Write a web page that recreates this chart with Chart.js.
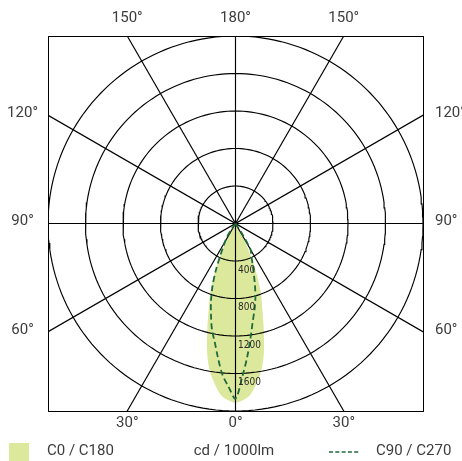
<!DOCTYPE html>
<html>
<head>
<meta charset="utf-8">
<script src="https://cdn.jsdelivr.net/npm/chart.js@4.4.1/dist/chart.umd.min.js"></script>
<style>
  html, body { margin: 0; padding: 0; background: #fff; }
</style>
</head>
<body>
<canvas id="polar" width="462" height="461"></canvas>
<script>
// Polar luminous intensity diagram — cd / 1000lm
// angles measured from nadir (0° = straight down), same steps for every curve
const angles  = [0, 2.5, 5, 7.5, 10, 12.5, 15, 17.5, 20, 22.5, 25, 27.5, 30, 32.5, 35, 37.5];
const c0c180  = [1912, 1885, 1830, 1720, 1590, 1400, 1160, 950, 790, 600, 400, 220, 120, 0, 0, 0];
const c90     = [1868, 1640, 1430, 1230, 1060, 940, 820, 690, 570, 480, 410, 360, 320, 150, 0, 0];
const c270    = [1868, 1740, 1615, 1440, 1280, 1160, 1010, 870, 720, 560, 400, 290, 220, 170, 60, 0];

const rings      = [400, 800, 1200, 1600, 2000];
const ringLabels = ['400', '800', '1200', '1600'];
const spokes     = [0, 30, 60, 90, 120, 150];
const rMax       = 2000;

const topLabels    = ['150°', '180°', '150°'];
const bottomLabels = ['30°', '0°', '30°'];
const sideLabels   = ['60°', '90°', '120°'];

const GREEN_FILL = '#dce89c';
const GREEN_LINE = '#1f6b3c';
const TEXT = '#3c3c3c';

var rad = function (d) { return d * Math.PI / 180; };
var pt = function (deg, r) { return { x: r * Math.sin(rad(deg)), y: -r * Math.cos(rad(deg)) }; };

// one side of a curve, from nadir outwards, stopping at the first zero
function side(vals, sign) {
  var out = [];
  for (var i = 0; i < angles.length; i++) {
    out.push(pt(sign * angles[i], vals[i]));
    if (vals[i] === 0) break;
  }
  return out;
}
function curve(leftVals, rightVals) {
  return side(leftVals, -1).reverse().concat(side(rightVals, 1).slice(1));
}

// where a 30° spoke meets the square frame
var edge = rMax * Math.tan(rad(30));
var edgeTicks = [-edge, 0, edge];

var gridSets = [];
rings.forEach(function (r) {
  var pts = [];
  for (var a = 0; a <= 360; a += 2) pts.push(pt(a, r));
  gridSets.push(pts);
});
spokes.forEach(function (a) {
  gridSets.push([pt(a, rMax * 2), pt(a + 180, rMax * 2)]);
});

var font15 = { family: 'Roboto', size: 15 };

function edgeAxis(pos, labels, size, extra) {
  var s = {
    type: 'linear', position: pos, min: -rMax, max: rMax,
    grid: { display: false, drawTicks: false },
    border: { display: true, color: '#000', width: 1 },
    afterBuildTicks: function (sc) { sc.ticks = edgeTicks.map(function (v) { return { value: v }; }); },
    ticks: { color: TEXT, font: font15, autoSkip: false, maxRotation: 0,
      callback: function (v, i) { return labels[i]; } },
    afterFit: function (sc) {
      if (pos === 'top' || pos === 'bottom') sc.height = size; else sc.width = size;
    }
  };
  Object.assign(s.ticks, extra || {});
  return s;
}

var ringText = {
  id: 'ringText',
  afterDatasetsDraw: function (chart) {
    var ctx = chart.ctx, x = chart.scales.x, y = chart.scales.y;
    ctx.save();
    ctx.font = "10px 'Liberation Sans Narrow', 'DejaVu Sans Condensed', sans-serif";
    ctx.fillStyle = '#2a2a2a';
    ctx.textAlign = 'left';
    ctx.textBaseline = 'alphabetic';
    ringLabels.forEach(function (t, i) {
      ctx.fillText(t, x.getPixelForValue(0) + 2.5, y.getPixelForValue(-rings[i]) + 11.5);
    });
    ctx.restore();
  }
};

var legendRow = {
  id: 'legendRow',
  afterDraw: function (chart) {
    var ctx = chart.ctx, yMid = 451;
    ctx.save();
    ctx.fillStyle = GREEN_FILL;
    ctx.fillRect(9, 443, 20, 18);
    ctx.font = '15px Roboto';
    ctx.fillStyle = TEXT;
    ctx.textBaseline = 'middle';
    ctx.textAlign = 'left';
    ctx.fillText('C0 / C180', 47, yMid);
    ctx.fillText('C90 / C270', 376, yMid);
    ctx.textAlign = 'center';
    ctx.fillText('cd / 1000lm', 234, yMid);
    ctx.strokeStyle = GREEN_LINE;
    ctx.lineWidth = 1.3;
    ctx.setLineDash([4, 2.3]);
    ctx.beginPath();
    ctx.moveTo(329, yMid + 1);
    ctx.lineTo(359, yMid + 1);
    ctx.stroke();
    ctx.restore();
  }
};

var datasets = [{
  label: 'C0 / C180', data: curve(c0c180, c0c180), showLine: true,
  fill: 'shape', backgroundColor: GREEN_FILL, borderColor: 'rgba(0,0,0,0)', borderWidth: 0,
  pointRadius: 0, tension: 0.35, order: 3, clip: 0
}, {
  label: 'C90 / C270', data: curve(c270, c90), showLine: true,
  borderColor: GREEN_LINE, borderWidth: 1.8, borderDash: [6, 3.5],
  pointRadius: 0, tension: 0.3, order: 1, clip: 0
}];
gridSets.forEach(function (pts) {
  datasets.push({ data: pts, showLine: true, borderColor: '#000', borderWidth: 1.15,
    pointRadius: 0, tension: 0, order: 2, clip: 0 });
});

new Chart(document.getElementById('polar'), {
  type: 'scatter',
  data: { datasets: datasets },
  options: {
    responsive: false,
    animation: false,
    devicePixelRatio: 1,
    layout: { padding: 0 },
    plugins: { legend: { display: false }, tooltip: { enabled: false } },
    scales: {
      x: edgeAxis('bottom', bottomLabels, 50, { padding: 3 }),
      xTop: edgeAxis('top', topLabels, 36, { padding: 9 }),
      y: edgeAxis('left', sideLabels, 48, { padding: 10, crossAlign: 'center', labelOffset: -2 }),
      yRight: edgeAxis('right', sideLabels, 39, { padding: 12, labelOffset: -2 })
    }
  },
  plugins: [ringText, legendRow]
});
</script>
</body>
</html>
